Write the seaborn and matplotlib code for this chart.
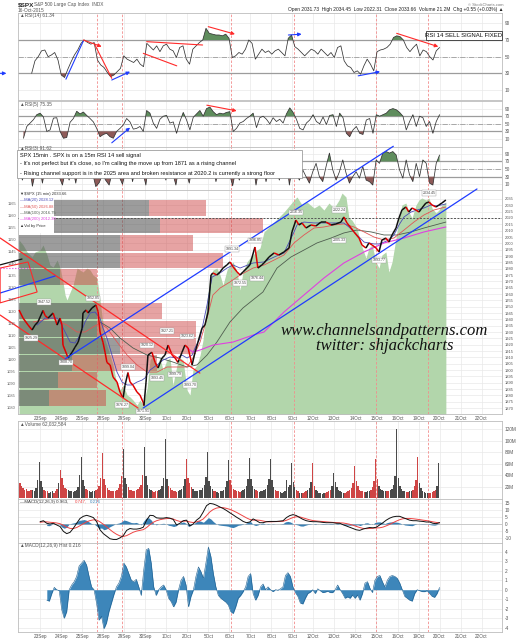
import numpy as np
import matplotlib
matplotlib.use("Agg")
import matplotlib.pyplot as plt
import seaborn as sns
from matplotlib.patches import Rectangle, Polygon

sns.set_theme(style="white")
plt.rcParams['font.family'] = ['Liberation Sans', 'DejaVu Sans']

# ---------------- data ----------------
# x positions are in trading days: 0 = open of 22 Sep, 1 = 23 Sep, ...
day_labels = ["23Sep", "24Sep", "25Sep", "28Sep", "29Sep", "30Sep", "1Oct", "2Oct",
              "5Oct", "6Oct", "7Oct", "8Oct", "9Oct", "12Oct", "13Oct", "14Oct",
              "15Oct", "16Oct", "19Oct", "20Oct", "21Oct", "22Oct"]
signal_days = [3.7, 4.9, 10.1, 13.1, 17.0, 19.45]

price_day = [0.00, 0.19, 0.43, 0.62, 0.76, 0.90, 1.14, 1.24, 1.38, 1.62, 1.81, 1.95, 2.04, 2.09,
             2.28, 2.33, 2.52, 2.66, 2.81, 3.00, 3.04, 3.19, 3.28, 3.47, 3.66, 3.76, 3.85, 3.99,
             4.09, 4.18, 4.33, 4.47, 4.66, 4.80, 4.95, 5.04, 5.18, 5.28, 5.42, 5.61, 5.75, 5.90,
             5.94, 6.04, 6.13, 6.32, 6.47, 6.61, 6.80, 6.94, 7.09, 7.28, 7.42, 7.56, 7.75, 7.89,
             8.04, 8.23, 8.37, 8.51, 8.70, 8.84, 8.99, 9.13, 9.22, 9.41, 9.56, 9.70, 9.89, 10.03,
             10.18, 10.37, 10.51, 10.65, 10.84, 10.98, 11.22, 11.36, 11.55, 11.65, 11.89, 12.13,
             12.36, 12.60, 12.84, 12.98, 13.17, 13.31, 13.46, 13.65, 13.88, 14.12, 14.36, 14.60,
             14.84, 15.07, 15.31, 15.45, 15.60, 15.79, 15.93, 16.17, 16.31, 16.50, 16.64, 16.79,
             16.98, 17.12, 17.26, 17.45, 17.59, 17.74, 17.93, 18.07, 18.21, 18.40, 18.54, 18.69,
             18.88, 19.02, 19.16, 19.35, 19.50, 19.64, 19.83, 19.97, 20.11, 20.30]
price = [1947.4, 1941.0, 1935.5, 1931.6, 1935.5, 1938.0, 1947.0, 1943.0, 1941.0, 1945.0, 1935.5,
         1941.0, 1935.5, 1919.7, 1911.8, 1909.5, 1914.0, 1918.0, 1922.0, 1933.0, 1945.0, 1947.4,
         1945.0, 1949.0, 1951.3, 1946.0, 1930.0, 1922.0, 1914.0, 1906.0, 1904.0, 1894.5, 1890.5,
         1882.6, 1877.9, 1888.0, 1898.0, 1890.5, 1888.0, 1882.6, 1880.3, 1874.7, 1871.9, 1890.5,
         1911.8, 1914.0, 1906.0, 1901.6, 1909.5, 1911.8, 1919.7, 1911.8, 1909.5, 1906.0, 1914.0,
         1919.7, 1917.4, 1904.0, 1914.0, 1922.0, 1933.0, 1935.5, 1945.8, 1975.0, 1976.6, 1975.0,
         1977.4, 1980.5, 1983.0, 1985.3, 1981.5, 1977.4, 1975.0, 1977.4, 1980.5, 1983.0, 1997.1,
         1980.5, 1983.0, 1984.5, 1989.2, 1992.4, 1990.8, 1993.2, 1996.3, 2009.0, 2018.4, 2014.5,
         2016.0, 2012.1, 2014.5, 2013.7, 2016.8, 2016.8, 2014.5, 2015.3, 2016.8, 2020.8, 2016.0,
         2012.1, 2009.0, 2004.2, 1998.7, 1996.3, 2000.3, 1998.7, 1996.3, 1993.2, 2002.6, 2004.2,
         2001.0, 2006.6, 2012.1, 2020.0, 2026.3, 2028.7, 2024.7, 2027.9, 2026.3, 2024.7, 2027.9,
         2031.8, 2032.6, 2030.3, 2028.7, 2030.3, 2031.8, 2034.2]

area_day = [0.00, 0.19, 0.38, 0.62, 0.76, 1.00, 1.14, 1.33, 1.47, 1.62, 1.81, 1.95, 2.09, 2.19,
            2.28, 2.43, 2.57, 2.76, 2.90, 3.04, 3.23, 3.38, 3.52, 3.71, 3.85, 4.09, 4.33, 4.47,
            4.66, 4.80, 4.95, 5.14, 5.28, 5.42, 5.61, 5.75, 5.90, 6.09, 6.23, 6.37, 6.56, 6.70,
            6.85, 7.04, 7.18, 7.32, 7.51, 7.66, 7.80, 7.99, 8.13, 8.27, 8.46, 8.61, 8.75, 8.94,
            9.08, 9.22, 9.41, 9.56, 9.70, 9.89, 10.03, 10.18, 10.37, 10.51, 10.65, 10.84, 10.98,
            11.13, 11.32, 11.46, 11.65, 12.13, 12.60, 13.08, 13.22, 13.46, 13.69, 14.03, 14.27,
            14.50, 14.74, 14.98, 15.22, 15.36, 15.55, 15.69, 15.83, 16.07, 16.31, 16.50, 16.64,
            16.79, 16.98, 17.12, 17.26, 17.45, 17.59, 17.74, 17.93, 18.07, 18.21, 18.40, 18.54,
            18.69, 18.88, 19.02, 19.16, 19.35, 19.50, 19.64, 19.83, 19.97, 20.11, 20.30]
area_top = [2002.6, 1998.7, 1993.2, 1989.2, 1993.2, 1994.7, 1998.7, 1990.8, 1982.9, 1981.3,
            1986.8, 1980.5, 1969.5, 1959.2, 1955.3, 1961.6, 1967.1, 1980.5, 1978.9, 1977.4,
            1980.5, 1978.9, 1975.0, 1972.6, 1955.3, 1923.7, 1911.8, 1903.9, 1888.2, 1884.2,
            1888.2, 1880.3, 1878.7, 1876.3, 1872.4, 1876.3, 1872.4, 1885.8, 1907.9, 1911.8,
            1903.9, 1909.5, 1900.0, 1907.9, 1909.5, 1888.2, 1903.9, 1909.5, 1907.9, 1884.2,
            1880.3, 1900.0, 1903.9, 1911.8, 1923.7, 1955.3, 1972.6, 1978.9, 1980.5, 1975.0,
            1967.1, 1978.9, 1983.0, 1985.3, 1977.4, 1963.2, 1977.4, 1985.3, 1988.4, 1990.8,
            1994.7, 1996.3, 2009.0, 2016.8, 2024.7, 2034.2, 2036.6, 2030.3, 2032.6, 2027.9,
            2030.3, 2026.3, 2031.8, 2027.9, 2034.2, 2039.7, 2036.6, 2020.0, 2018.4, 2012.1,
            1997.1, 1988.4, 1996.3, 1998.7, 1985.3, 1980.5, 1990.8, 1993.2, 1977.4, 1985.3,
            2004.2, 2020.0, 2030.3, 2031.8, 2024.7, 2020.0, 2030.3, 2034.2, 2035.8, 2034.2,
            2035.8, 2027.9, 2024.0, 2026.3, 2030.3, 2032.6]

ma20_day = [0.86, 1.24, 1.81, 1.95, 2.19, 2.43, 2.66, 2.90, 3.14, 3.38, 3.61, 3.85, 3.99, 4.18,
            4.42, 4.66, 4.90, 5.14, 5.37, 5.61, 5.85, 5.99, 6.23, 6.56, 6.85, 7.18, 7.51, 7.75,
            7.99, 8.23, 8.37, 8.61, 8.94, 9.18, 9.56, 9.89, 10.18, 10.51, 11.13, 11.65, 12.13,
            12.60, 13.08, 13.22, 13.55, 14.03, 14.50, 14.98, 15.45, 15.69, 15.93, 16.17, 16.41,
            16.64, 16.88, 17.12, 17.36, 17.59, 17.83, 18.07, 18.31, 18.64, 18.93, 19.26, 19.59,
            19.88, 20.30]
ma20 = [1935.5, 1941.0, 1941.0, 1937.9, 1930.0, 1922.1, 1921.3, 1927.6, 1937.9, 1945.0, 1945.8,
        1941.0, 1933.1, 1925.3, 1911.8, 1898.4, 1890.5, 1888.2, 1888.2, 1890.5, 1892.1, 1893.7,
        1900.0, 1904.0, 1907.9, 1910.3, 1909.5, 1911.8, 1909.5, 1911.8, 1917.4, 1925.3, 1951.3,
        1973.4, 1976.6, 1980.5, 1982.9, 1980.5, 1984.5, 1985.3, 1989.2, 1992.4, 2009.0, 2014.5,
        2016.8, 2016.1, 2016.1, 2016.1, 2016.1, 2012.9, 2009.0, 2005.0, 2001.0, 2000.3, 1999.5,
        1999.5, 2001.0, 2002.6, 2006.6, 2014.5, 2020.8, 2024.7, 2026.3, 2027.9, 2030.3, 2029.5,
        2031.1]
ma50_day = [0.67, 1.14, 1.62, 1.95, 2.28, 2.76, 3.14, 3.52, 3.85, 4.18, 4.66, 5.14, 5.61, 6.09,
            6.56, 7.04, 7.51, 7.99, 8.27, 8.61, 8.94, 9.22, 9.56, 10.03, 10.51, 11.13, 11.65,
            12.13, 12.60, 13.08, 13.55, 14.03, 14.50, 14.98, 15.45, 15.93, 16.41, 16.88, 17.36,
            17.83, 18.31, 18.78, 19.26, 19.73, 20.30]
ma50 = [1937.9, 1939.5, 1941.0, 1937.9, 1935.5, 1930.0, 1930.0, 1934.0, 1937.1, 1933.1, 1922.1,
        1911.8, 1904.0, 1898.4, 1898.4, 1902.4, 1902.4, 1902.4, 1909.5, 1922.1, 1941.0, 1959.2,
        1964.7, 1969.5, 1975.0, 1980.5, 1982.9, 1986.8, 1990.8, 2000.3, 2006.6, 2012.1, 2012.9,
        2014.5, 2015.3, 2012.9, 2009.0, 2005.0, 2002.6, 2004.2, 2010.5, 2016.8, 2022.4, 2026.3,
        2028.7]
ma100_day = [3.85, 4.33, 4.80, 5.42, 6.09, 6.70, 7.32, 7.99, 8.46, 8.94, 9.41, 10.03, 10.65,
             11.60, 12.27, 12.93, 13.55, 14.17, 14.84, 15.45, 16.07, 16.74, 17.36, 17.97, 18.64,
             19.26, 20.30]
ma100 = [1937.9, 1933.1, 1925.3, 1917.4, 1911.8, 1909.5, 1906.3, 1902.4, 1904.0, 1911.8, 1922.1,
         1937.9, 1949.0, 1961.6, 1980.5, 1989.2, 1994.7, 2000.3, 2004.2, 2008.2, 2010.5, 2009.0,
         2006.6, 2006.6, 2009.0, 2012.1, 2016.8]
ma200_day = [7.99, 8.27, 8.61, 9.22, 10.18, 11.13, 11.65, 12.60, 13.55, 14.50, 15.45, 16.41,
             17.36, 18.31, 19.26, 20.30]
ma200 = [1917.4, 1914.2, 1915.8, 1919.7, 1922.1, 1927.6, 1930.0, 1945.8, 1959.2, 1972.6, 1984.5,
         1993.2, 2000.3, 2004.2, 2009.0, 2012.9]

# volume by price rows (price centre, grey part, total length in days)
vbp_price = [2027.9, 2014.1, 2000.3, 1986.5, 1973.4, 1946.6, 1932.3, 1919.0, 1905.5, 1892.1, 1877.9]
vbp_grey = [6.18, 6.70, 4.80, 4.80, 1.95, 3.70, 3.70, 4.80, 2.52, 1.85, 1.43]
vbp_total = [8.89, 11.60, 8.27, 9.70, 3.70, 6.80, 8.40, 8.40, 6.56, 3.70, 4.14]

pl_day = [1.19, 0.57, 2.23, 3.52, 5.18, 4.90, 5.90, 6.09, 7.04, 7.99, 6.56, 7.42, 8.13, 10.13,
          11.22, 10.51, 11.32, 13.17, 15.22, 15.22, 17.12, 19.50]
pl_price = [1953.7, 1925.3, 1906.3, 1956.8, 1902.4, 1872.4, 1867.6, 1919.7, 1930.8, 1926.8,
            1893.7, 1896.8, 1888.2, 1995.5, 2002.6, 1968.7, 1972.6, 2024.7, 2026.3, 2002.6,
            1986.8, 2039.7]
pl_text = ["1947.52", "1925.29", "1908.70", "1952.85", "1899.04", "1876.27", "1871.91",
           "1920.12", "1927.21", "1923.62", "1893.45", "1899.79", "1893.70", "1991.34",
           "1996.85", "1972.55", "1976.44", "2016.35", "2022.24", "2005.33", "1993.77", "2034.45"]

rsi14 = [30, 45, 50, 57, 58, 50, 52, 55, 46, 28, 25, 35, 44, 52, 58, 66, 70, 67, 65, 67, 46, 40,
         37, 31, 26, 28, 32, 36, 51, 47, 45, 43, 47, 41, 38, 66, 62, 58, 63, 56, 63, 65, 59, 57,
         49, 61, 63, 47, 41, 59, 63, 67, 70, 84, 78, 77, 76, 76, 75, 77, 72, 49, 51, 55, 53, 59,
         70, 66, 47, 53, 59, 55, 57, 53, 57, 59, 55, 51, 72, 76, 62, 59, 55, 51, 55, 59, 57, 53,
         59, 55, 51, 55, 49, 61, 63, 45, 39, 37, 31, 33, 29, 39, 47, 41, 33, 56, 58, 59, 61, 65,
         73, 75, 74, 70, 61, 56, 61, 65, 51, 58, 56, 50, 46, 57, 61]
rsi5 = [12, 43, 52, 61, 74, 78, 68, 30, 34, 65, 66, 30, 12, 14, 54, 64, 83, 76, 81, 72, 64, 55,
        38, 16, 22, 25, 16, 12, 30, 38, 47, 64, 55, 36, 38, 43, 30, 85, 78, 52, 38, 62, 70, 72,
        52, 55, 25, 56, 80, 60, 34, 67, 76, 85, 70, 90, 94, 82, 74, 78, 76, 80, 82, 30, 38, 52,
        56, 64, 70, 78, 40, 66, 70, 62, 50, 66, 56, 62, 52, 76, 92, 80, 62, 38, 34, 52, 60, 74,
        56, 50, 68, 48, 72, 74, 43, 78, 66, 25, 16, 34, 43, 25, 22, 60, 64, 25, 74, 70, 74, 78,
        87, 90, 87, 80, 70, 34, 56, 74, 43, 70, 66, 43, 56, 25, 56, 74]
rsi3 = [60, 21, 55, 70, 5, 45, 65, 13, 60, 75, 50, 65, 30, 8, 50, 21, 55, 13, 70, 85, 60, 75,
        40, 4, 14, 35, 20, 8, 45, 60, 30, 10, 50, 70, 17, 55, 75, 45, 8, 80, 85, 60, 75, 50, 21,
        65, 40, 8, 60, 80, 45, 13, 60, 26, 75, 90, 80, 92, 70, 17, 60, 85, 75, 40, 6, 50, 21, 60,
        80, 55, 70, 8, 55, 75, 17, 60, 80, 50, 21, 65, 85, 8, 60, 39, 21, 48, 30, 13, 43, 65,
        30, 17, 57, 92, 48, 21, 43, 74, 39, 13, 30, 43, 26, 57, 21, 17, 8, 74, 65, 92, 96, 92,
        96, 87, 48, 26, 74, 35, 17, 65, 30, 74, 65, 13, 8, 65, 87]

# trend lines drawn on the RSI panels: (x0, y0, x1, y1, colour, arrow)
rsi14_lines = [(2.23, 23, 3.06, 69, "blue", False), (3.06, 70, 3.93, 62, "red", True),
               (3.61, 64, 4.41, 24, "red", False), (4.41, 22, 5.28, 32, "blue", True),
               (6.07, 68, 8.73, 64, "red", False), (5.91, 54, 7.50, 39, "red", False),
               (9.00, 86, 10.27, 77, "red", True), (12.81, 76, 13.44, 77, "blue", True),
               (16.13, 27, 17.17, 32, "blue", True), (17.96, 78, 19.94, 62, "red", True),
               (-0.90, 30, -0.60, 30, "blue", True)]
rsi5_lines = [(4.41, 0, 5.28, 40, "blue", True), (8.93, 99, 10.35, 84, "red", True)]
channel_lines = [(-0.9, 2004.2, 8.6, 1897.6, "red"), (-0.9, 1943.4, 5.66, 1870.0, "red"),
                 (2.19, 1908.7, 17.8, 2076.6, "blue"), (5.9, 1870.0, 21.78, 2042.9, "blue"),
                 (-0.9, 1960.8, 1.71, 1974.2, "blue"), (-0.9, 1983.0, 0.14, 1987.6, "black")]

# volume, 13 half-hour bars per day (millions)
volume_m = [26, 22, 18, 15, 16, 13, 12, 14, 15, 13, 18, 31, 63,
            30, 19, 15, 13, 12, 10, 11, 12, 10, 13, 17, 26, 50,
            36, 24, 18, 16, 14, 13, 12, 11, 13, 15, 20, 40, 72,
            32, 22, 17, 15, 12, 11, 13, 12, 14, 16, 22, 35, 78,
            34, 23, 18, 14, 13, 12, 12, 13, 15, 18, 25, 38, 86,
            36, 25, 19, 15, 14, 13, 12, 14, 16, 19, 24, 40, 90,
            38, 24, 17, 14, 12, 11, 12, 13, 14, 17, 22, 36, 103,
            33, 22, 18, 15, 13, 12, 11, 12, 14, 16, 21, 34, 68,
            35, 26, 20, 16, 13, 12, 13, 14, 15, 18, 24, 37, 80,
            30, 21, 16, 13, 12, 11, 10, 12, 13, 15, 19, 30, 67,
            32, 23, 17, 14, 13, 12, 11, 12, 14, 16, 22, 34, 70,
            34, 22, 16, 14, 12, 11, 12, 13, 15, 17, 23, 33, 68,
            31, 20, 15, 13, 12, 11, 10, 11, 12, 31, 19, 24, 61,
            29, 19, 14, 12, 10, 9, 10, 11, 12, 14, 18, 28, 61,
            22, 15, 12, 10, 9, 8, 9, 10, 11, 12, 15, 22, 44,
            28, 19, 14, 12, 11, 10, 10, 11, 12, 14, 18, 27, 57,
            30, 21, 15, 13, 12, 11, 11, 12, 13, 15, 20, 30, 68,
            33, 22, 17, 14, 13, 12, 12, 13, 14, 17, 23, 38, 121,
            36, 22, 16, 13, 12, 11, 11, 12, 13, 15, 21, 31, 71,
            26, 18, 13, 11, 10, 9, 9, 10, 11, 12, 15, 22, 61]

macd = [1.6, 2.3, 0.5, 0.0, 0.5, -0.7, -1.8, -5.2, -6.8, -5.9, -3.0, 0.5, 3.9, 5.4, 6.1, 5.4, 4.5,
        1.6, -4.1, -6.8, -8.6, -10.4, -10.9, -10.9, -9.8, -8.2, -4.5, -3.2, -3.6, -3.6, -3.2,
        -2.3, 2.7, 6.1, 5.9, 4.3, 4.1, 4.1, 4.5, 4.1, 3.2, -0.7, 0.5, 2.3, 2.7, -1.4, 0.0, 2.7,
        4.5, 8.4, 12.9, 14.5, 14.1, 13.2, 12.0, 10.9, 9.5, 7.9, 6.4, 4.8, 3.4, 1.8, 0.9, 1.4,
        3.6, 2.3, 0.9, 0.9, 1.6, 1.8, 1.8, 1.8, 2.0, 2.3, 4.5, 5.9, 6.6, 5.9, 4.5, 3.2, 2.3, 1.8,
        1.6, 1.6, 1.4, 1.1, 0.9, 0.9, 0.9, 0.5, 0.5, -0.5, -1.4, -2.3, -3.2, -4.1, -4.5, -3.6,
        -3.0, -2.5, -2.7, -2.3, -0.7, 0.9, 2.7, 4.1, 5.0, 5.4, 5.4, 4.5, 3.6, 2.7, 2.3, 2.3, 2.0,
        1.8, 1.4, 1.4, 0.5, 0.2, 0.96]
signal = [1.2, 1.5, 1.5, 1.2, 1.0, 0.7, 0.2, -0.9, -2.2, -3.1, -3.2, -2.5, -1.2, 0.2, 1.5, 2.4,
          2.9, 2.8, 1.5, -0.2, -2.0, -4.0, -5.8, -7.3, -8.4, -8.8, -8.2, -7.0, -5.8, -5.0, -4.5,
          -4.0, -2.5, -0.5, 1.2, 2.3, 3.0, 3.5, 3.8, 3.9, 3.5, 2.5, 1.8, 1.9, 2.1, 1.4, 1.0, 1.5,
          2.2, 3.5, 5.9, 8.5, 10.2, 11.2, 11.6, 11.5, 11.0, 10.3, 9.3, 8.2, 6.9, 5.6, 4.3, 3.2,
          2.7, 2.8, 2.6, 2.1, 1.6, 1.5, 1.6, 1.7, 1.8, 1.9, 2.6, 3.6, 4.6, 5.1, 5.0, 4.3, 3.6,
          2.9, 2.4, 2.1, 1.9, 1.7, 1.5, 1.3, 1.1, 1.0, 0.8, 0.7, 0.3, -0.2, -0.9, -1.7, -2.5,
          -3.1, -3.3, -3.2, -3.0, -2.8, -2.7, -2.2, -1.3, -0.3, 0.9, 2.0, 3.0, 3.7, 3.9, 3.9, 3.7,
          3.4, 3.1, 2.7, 2.4, 2.0, 1.5, 1.1, 0.75]
hist = [-1.1, -1.2, -0.4, 0.25, 0, -0.1, -2.1, -3.0, -2.3, 0, 0.5, 0.85, 1.4, 2.5, 2.8, 3.1, 2.6,
        1.4, 0.3, 0, -1.4, -3.2, -2.8, -4.1, -3.5, -2.3, -1.4, -0.5, 0.3, 0.7, 1.4, 2.8, 2.4, 1.7,
        1.0, 0.85, 1.1, 0.3, -0.6, 2.1, 4.2, 4.35, 2.8, 0.3, -0.6, 0, 0.3, 0.5, 0, -0.9, -1.25,
        -1.8, -1.3, 0, 1.0, 1.4, 0.5, -1.8, -0.7, 0, 1.4, 2.4, 1.9, 1.2, 2.8, 4.5, 3.5, 1.7, 0.3,
        -0.6, -0.9, -1.1, -1.3, -1.6, -2.3, -2.5, -1.8, -0.9, -0.6, -0.2, 0.3, 1.4, 1.7, -0.4,
        -1.1, -0.6, 0.3, 0.6, 0, 0.3, 0, -0.2, 0, -0.05, 0.1, 0.3, 1.5, 1.8, 1.4, 0.3, -0.3,
        -0.7, -1.4, -1.5, -0.9, -0.4, -0.25, 0, -0.4, 0.1, -0.1, -0.3, -0.25, -0.15, -0.3, -0.3,
        0, 0.5, 0, -0.4, -0.9, -0.75, -0.9, -0.55, -0.9, -0.55, -1.1, -0.4, 0.7, 0.85, 0.15,
        -0.3, 1.0, 1.4, 1.5, 0.85, 0.3, 1.0, 1.4, 1.5, 1.4, 1.2, 0.7, 0, -0.7, -0.9, -1.1, -1.2,
        -0.4, 0, -0.1, -0.2, -0.2, -0.1, -0.4, -0.7, -0.8, -0.4, 0.25]

# ---------------- layout helpers ----------------
W, H = 529, 640
X0, X1 = 18, 502
XLIM = (-0.05, 22.97)
RED, BLUE = "#ff2a2a", "#1f3cff"
COLS = {"red": RED, "blue": BLUE, "black": "#111111"}


def fx(x):
    return x / W


def fy(y):
    return 1 - y / H


def panel(top, bottom):
    return fig.add_axes([fx(X0), fy(bottom), (X1 - X0) / W, (bottom - top) / H])


def style(ax, ylim, ticks, labels, size=3.4):
    ax.set_xlim(*XLIM)
    ax.set_ylim(*ylim)
    ax.set_xticks(np.arange(1, 23))
    ax.tick_params(axis="x", length=0, labelbottom=False)
    ax.yaxis.tick_right()
    ax.set_yticks(ticks)
    ax.set_yticklabels(labels, fontsize=size, color="#555555")
    ax.tick_params(axis="y", length=0, pad=2)
    ax.grid(True, color="#e9e9e9", lw=0.5)
    ax.set_axisbelow(True)
    ax.set_xlabel("")
    ax.set_ylabel("")
    for s in ax.spines.values():
        s.set_color("#bdbdbd")
        s.set_linewidth(0.6)
    for d in signal_days:
        ax.axvline(d, color="#f28c8c", lw=0.6, ls=(0, (3, 2)), zorder=1.5)


def date_labels(ax):
    ax.set_xticklabels(day_labels, fontsize=3.3, color="#555555")
    ax.tick_params(axis="x", labelbottom=True, pad=1.2)


def draw_rsi(ax, x, y):
    y = np.asarray(y, float)
    ax.fill_between(x, y, 70, where=y >= 70, interpolate=True, color="#5f8d5d", lw=0, zorder=2)
    ax.fill_between(x, y, 30, where=y <= 30, interpolate=True, color="#8e5a58", lw=0, zorder=2)
    ax.axhline(70, color="#9c9c9c", lw=0.9, zorder=1.8)
    ax.axhline(30, color="#9c9c9c", lw=0.9, zorder=1.8)
    ax.axhline(50, color="#9c9c9c", lw=0.6, ls="-.", zorder=1.8)
    sns.lineplot(x=x, y=y, ax=ax, color="#333333", lw=0.55, estimator=None, legend=False, zorder=3)


def draw_lines(ax, lines):
    for x0, y0, x1, y1, c, arrow in lines:
        if arrow:
            ax.annotate("", xy=(x1, y1), xytext=(x0, y0), annotation_clip=False,
                        arrowprops=dict(arrowstyle="-|>", color=COLS[c], lw=0.8,
                                        mutation_scale=5, shrinkA=0, shrinkB=0), zorder=5)
        else:
            ax.plot([x0, x1], [y0, y1], color=COLS[c], lw=0.8, zorder=5, clip_on=False)


fig = plt.figure(figsize=(W / 100, H / 100), dpi=100)

# ---------------- RSI panels ----------------
ax1 = panel(12.5, 100)
draw_rsi(ax1, np.linspace(0.60, 20.0, len(rsi14)), rsi14)
style(ax1, (-2, 103), [10, 30, 50, 70, 90], ["10", "30", "50", "70", "90"])
draw_lines(ax1, rsi14_lines)

ax2 = panel(101, 147)
draw_rsi(ax2, np.linspace(0.21, 20.0, len(rsi5)), rsi5)
style(ax2, (-11, 110), [10, 30, 50, 70, 90], ["10", "30", "50", "70", "90"])
draw_lines(ax2, rsi5_lines)

ax3 = panel(147, 190)
draw_rsi(ax3, np.linspace(0.0, 20.0, len(rsi3)), rsi3)
style(ax3, (-5, 108), [10, 30, 50, 70, 90], ["10", "30", "50", "70", "90"])

# ---------------- price panel ----------------
axp = panel(190, 414)
axl = axp.twinx()
axl.set_ylim(1077.5, 1170.8)
axl.yaxis.tick_left()
axl.set_yticks(np.arange(1080, 1170, 5))
axl.set_yticklabels([str(v) for v in np.arange(1080, 1170, 5)], fontsize=2.9, color="#666666")
axl.tick_params(axis="y", length=0, pad=1.5)
for s in axl.spines.values():
    s.set_visible(False)

axp.fill_between(area_day, area_top, 1860, color="#b2d6ab", lw=0, zorder=1)
axp.barh(vbp_price, vbp_grey, left=0, height=12.3, color="#555555", alpha=0.58, lw=0, zorder=2)
axp.barh(vbp_price, np.array(vbp_total) - np.array(vbp_grey), left=vbp_grey, height=12.3,
         color="#cc4040", alpha=0.48, lw=0, zorder=2)
axp.axhline(2020.2, color="#555555", lw=0.7, ls=(0, (2, 1.5)), zorder=3)
sns.lineplot(x=ma100_day, y=ma100, ax=axp, color="#4f5d4f", lw=0.6, estimator=None, legend=False, zorder=4)
sns.lineplot(x=ma50_day, y=ma50, ax=axp, color="#e05555", lw=0.6, estimator=None, legend=False, zorder=4)
sns.lineplot(x=ma20_day, y=ma20, ax=axp, color="#4a4ab8", lw=0.6, estimator=None, legend=False, zorder=4)
sns.lineplot(x=ma200_day, y=ma200, ax=axp, color="#e040e0", lw=0.8, estimator=None, legend=False, zorder=4)
for i in range(len(price) - 1):
    col = "#111111" if price[i + 1] >= price[i] else "#e00000"
    axp.plot(price_day[i:i + 2], price[i:i + 2], color=col, lw=1.1, solid_capstyle="butt", zorder=6)
for x0, y0, x1, y1, c in channel_lines:
    axp.plot([x0, x1], [y0, y1], color=COLS[c], lw=0.9, zorder=7, clip_on=False)
box = Polygon([(-0.9, 1980.5), (0.43, 1985.3), (0.86, 1961.6), (-0.9, 1953.0)], closed=True,
              fill=False, ec=RED, lw=0.8, clip_on=False, zorder=7)
axp.add_patch(box)
axp.plot([-0.9, 0.67], [1980.5, 1980.5], color="#e040e0", lw=0.8, ls=":", clip_on=False, zorder=7)
for d, p, t in zip(pl_day, pl_price, pl_text):
    axp.text(d, p, t, fontsize=2.6, color="#444444", ha="center", va="center", zorder=8,
             bbox=dict(boxstyle="square,pad=0.15", fc="white", ec="#999999", lw=0.3))
style(axp, (1865.3, 2042.1), np.arange(1870, 2040, 5),
      [str(v) for v in np.arange(1870, 2040, 5)], size=2.9)
date_labels(axp)
axp.add_patch(Rectangle((0.0, 2008.5), 1.65, 34, transform=axp.transData, fc="white", ec="none", zorder=8))
legend_rows = [("\u25bc$SPX (15 min) 2033.66", "#333333"), ("\u2014MA(20) 2028.12", "#4a4ab8"),
               ("\u2014MA(50) 2026.88", "#e05555"), ("\u2014MA(100) 2016.75", "#4f5d4f"),
               ("\u2014MA(200) 2012.30", "#e040e0"), ("\u25b2Vol by Price", "#333333")]
for k, (t, c) in enumerate(legend_rows):
    fig.text(fx(20), fy(194 + 6.3 * k), t, fontsize=3.0, color=c, va="center", zorder=20)

# ---------------- volume ----------------
axv = panel(421, 499)
vol_x = np.array([k + (i + 0.5) / 13 for k in range(20) for i in range(13)])
p_a = np.interp(vol_x - 0.5 / 13, price_day, price)
p_b = np.interp(vol_x + 0.5 / 13, price_day, price)
vol_col = np.where(p_b >= p_a, "#4a4a4a", "#cf4545")
axv.bar(vol_x, volume_m, width=0.85 / 13, color=vol_col, lw=0, zorder=2)
style(axv, (-1.2, 134.4), [20, 40, 60, 80, 100, 120], ["20M", "40M", "60M", "80M", "100M", "120M"])

# ---------------- MACD ----------------
axm = panel(499, 543)
hist_x = np.linspace(1.32, 20.0, len(hist))
axm.fill_between(hist_x, hist, 0, color="#3a80b4", lw=0, zorder=2)
axm.axhline(0, color="#bbbbbb", lw=0.5, zorder=1.8)
sns.lineplot(x=np.linspace(1.0, 20.0, len(signal)), y=signal, ax=axm, color="#ee4444", lw=0.7,
             estimator=None, legend=False, zorder=3)
sns.lineplot(x=np.linspace(1.0, 20.0, len(macd)), y=macd, ax=axm, color="#111111", lw=0.7,
             estimator=None, legend=False, zorder=4)
style(axm, (-13.4, 17.6), [-10, -5, 0, 5, 10, 15], ["-10", "-5", "0", "5", "10", "15"])

axh = panel(543, 632)
axh.fill_between(hist_x, hist, 0, color="#3d86ba", lw=0, zorder=2)
sns.lineplot(x=hist_x, y=hist, ax=axh, color="#1f5f8f", lw=0.4, estimator=None, legend=False, zorder=3)
style(axh, (-4.45, 4.92), [-4, -3, -2, -1, 0, 1, 2, 3, 4], ["-4", "-3", "-2", "-1", "0", "1", "2", "3", "4"])
date_labels(axh)

# ---------------- texts ----------------
small = dict(fontsize=3.4, color="#555555", va="center")
fig.text(fx(18), fy(4.5), "$SPX", fontsize=4.6, weight="bold", va="center")
fig.text(fx(34), fy(4.5), "S&P 500 Large Cap Index  INDX", **small)
fig.text(fx(18), fy(10), "16-Oct-2015", **small)
fig.text(fx(503), fy(4.5), "\u00a9 StockCharts.com", ha="right", fontsize=3.0, color="#777777", va="center")
fig.text(fx(503), fy(10), "Open 2031.73  High 2034.45  Low 2022.31  Close 2033.66  Volume 21.2M  "
         "Chg +0.55 (+0.03%) \u25b2", ha="right", fontsize=3.5, color="#222222", va="center")
fig.text(fx(20), fy(16), "\u25b2RSI(14) 61.34", **small)
fig.text(fx(20), fy(104.5), "\u25b2RSI(5) 75.35", **small)
fig.text(fx(20), fy(148.5), "\u25b2RSI(3) 91.62", **small)
fig.text(fx(20), fy(424), "\u25b2Volume 62,032,584", **small)
fig.text(fx(20), fy(502), "\u2014MACD(12,26,9) 0.963,", fontsize=3.2, color="#333333", va="center")
fig.text(fx(75), fy(502), "0.747,", fontsize=3.2, color="#ee4444", va="center")
fig.text(fx(90), fy(502), "0.216", fontsize=3.2, color="#3a80b4", va="center")
fig.text(fx(20), fy(546), "\u25b2MACD(12,26,9) Hist 0.216", **small)

fig.patches.append(Rectangle((fx(426), fy(40)), 76 / W, 9.3 / H, transform=fig.transFigure,
                             fc="white", ec="#333333", lw=0.6, zorder=10))
fig.text(fx(464), fy(35.4), "RSI 14 SELL SIGNAL FIXED", ha="center", va="center",
         fontsize=4.3, color="#111111", zorder=11)

fig.patches.append(Rectangle((fx(17), fy(178)), 285 / W, 28 / H, transform=fig.transFigure,
                             fc="white", ec="#8a8a8a", lw=0.5, zorder=10))
notes = ["SPX 15min . SPX is on a 15m RSI 14 sell signal",
         "- It's not perfect but it's close, so I'm calling the move up from 1871 as a rising channel",
         "- Rising channel support is in the 2025 area and broken resistance at 2020.2 is currently a strong floor"]
for k, t in enumerate(notes):
    fig.text(fx(20), fy(155 + 9 * k), t, fontsize=4.1, color="#111111", va="center", zorder=11)

fig.text(fx(384), fy(331), "www.channelsandpatterns.com", ha="center", va="center", fontsize=12,
         style="italic", family="Liberation Serif", color="#111111", zorder=12)
fig.text(fx(385), fy(346), "twitter: shjackcharts", ha="center", va="center", fontsize=12,
         style="italic", family="Liberation Serif", color="#111111", zorder=12)

fig.savefig("out.png", dpi=100)
